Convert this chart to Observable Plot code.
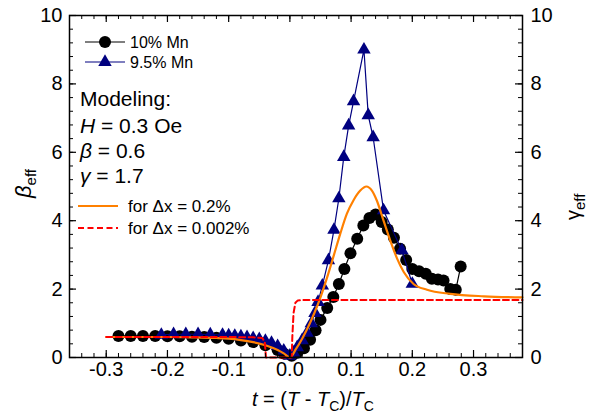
<!DOCTYPE html>
<html><head><meta charset="utf-8">
<script src="https://cdn.jsdelivr.net/npm/d3@7"></script>
<script src="https://cdn.jsdelivr.net/npm/@observablehq/plot@0.6"></script>
<style>
body{margin:0;background:#fff;font-family:"Liberation Sans",Arial,sans-serif;}
#wrap{position:relative;width:602px;height:417px;}
#wrap svg.overlay{position:absolute;left:0;top:0;pointer-events:none;}
</style></head><body><div id="wrap"></div>
<script>
// ---- data ----
const mn10T = [-0.28,-0.26,-0.24,-0.22,-0.20,-0.18,-0.16,-0.14,-0.12,-0.10,-0.08,-0.06,-0.04,-0.02,-0.01,0.003,0.012,0.023,0.033,0.042,0.050,0.061,0.071,0.080,0.089,0.099,0.110,0.120,0.130,0.140,0.150,0.160,0.170,0.180,0.190,0.200,0.211,0.222,0.232,0.242,0.251,0.262,0.271,0.279];
const mn10V = [0.63,0.63,0.63,0.63,0.62,0.62,0.61,0.60,0.58,0.55,0.50,0.45,0.36,0.22,0.12,0.05,0.14,0.27,0.52,0.80,1.10,1.45,1.77,2.15,2.59,3.05,3.47,3.86,4.08,4.18,3.96,3.74,3.50,3.18,2.85,2.59,2.52,2.45,2.30,2.28,2.25,2.00,1.98,2.66];

const mn95T = [-0.21,-0.19,-0.17,-0.15,-0.13,-0.11,-0.10,-0.09,-0.08,-0.07,-0.06,-0.05,-0.04,-0.03,-0.02,-0.01,0.0,0.006,0.012,0.020,0.028,0.035,0.041,0.046,0.053,0.063,0.072,0.080,0.088,0.096,0.104,0.121,0.128,0.136,0.153,0.183,0.200];
const mn95V = [0.66,0.68,0.68,0.68,0.67,0.66,0.64,0.63,0.61,0.59,0.56,0.53,0.48,0.42,0.33,0.20,0.05,0.14,0.30,0.50,0.72,1.00,1.30,1.62,2.10,2.84,3.73,4.65,5.86,6.78,7.49,9.00,7.08,6.44,4.30,3.13,2.15];

const modelAT = [-0.30,-0.25,-0.20,-0.16,-0.12,-0.10,-0.08,-0.06,-0.04,-0.02,-0.01,0.0,0.01,0.02,0.03,0.04,0.05,0.061,0.072,0.082,0.093,0.104,0.115,0.125,0.134,0.142,0.153,0.164,0.175,0.186,0.202,0.224,0.262,0.317,0.38];
const modelAV = [0.60,0.60,0.60,0.59,0.57,0.55,0.51,0.45,0.36,0.22,0.12,0.0,0.25,0.55,0.90,1.30,1.76,2.35,3.00,3.60,4.20,4.60,4.88,5.00,4.88,4.59,4.00,3.42,2.90,2.50,2.15,1.98,1.86,1.79,1.76];

const modelBT = [-0.30,-0.20,-0.10,-0.06,-0.045,-0.041,-0.039,0.003,0.004,0.006,0.009,0.013,0.02,0.38];
const modelBV = [0.60,0.60,0.60,0.59,0.57,0.45,0.0,0.0,0.6,1.3,1.6,1.67,1.68,1.68];

const xMajor = [-0.3,-0.2,-0.1,0,0.1,0.2,0.3];
const xTickLabels = ["-0.3","-0.2","-0.1","0.0","0.1","0.2","0.3"];
const yMajor = [0,2,4,6,8,10];
const yTickLabels = ["0","2","4","6","8","10"];
const xMinor = d3.range(-36,39,2).map(d=>d/100);
const yMinor = d3.range(0,26).map(d=>d*0.4);

// ---- build ----
const W=602,H=417,mL=69,mR=80,mT=15,mB=60;
const pW=W-mL-mR, pH=H-mT-mB;
const zip=(T,V)=>T.map((t,i)=>({t,v:V[i]}));
const d10=zip(mn10T,mn10V), d95=zip(mn95T,mn95V), dA=zip(modelAT,modelAV), dB=zip(modelBT,modelBV);
const FONT='"Liberation Sans",Arial,sans-serif';
const xi=xMajor.map((d,i)=>({d,l:xTickLabels[i]}));
const yi=yMajor.map((d,i)=>({d,l:yTickLabels[i]}));

const chart = Plot.plot({
  width:W,height:H,marginLeft:mL,marginRight:mR,marginTop:mT,marginBottom:mB,
  x:{domain:[-0.36,0.38],axis:null},
  y:{domain:[0,10],axis:null},
  style:{fontFamily:FONT,background:"transparent",color:"black"},
  marks:[
    Plot.line(d10,{x:"t",y:"v",stroke:"black",strokeWidth:1.2}),
    Plot.dot(d10,{x:"t",y:"v",r:6,fill:"black",stroke:"none"}),
    Plot.line(d95,{x:"t",y:"v",stroke:"#000080",strokeWidth:1.2}),
    Plot.dot(d95,{x:"t",y:"v",symbol:"triangle",r:5,fill:"#000080",stroke:"none"}),
    Plot.line(dA,{x:"t",y:"v",stroke:"#FF8000",strokeWidth:2.2,curve:"monotone-x"}),
    Plot.line(dB,{x:"t",y:"v",stroke:"#FF0000",strokeWidth:2,strokeDasharray:"6,3.5"}),
    // ticks (inward)
    Plot.tickX(xMinor,{x:d=>d,insetTop:pH-4,stroke:"black",strokeWidth:1}),
    Plot.tickX(xMajor,{x:d=>d,insetTop:pH-7,stroke:"black",strokeWidth:1.2}),
    Plot.tickX(xMinor,{x:d=>d,insetBottom:pH-4,stroke:"black",strokeWidth:1}),
    Plot.tickX(xMajor,{x:d=>d,insetBottom:pH-7,stroke:"black",strokeWidth:1.2}),
    Plot.tickY(yMinor,{y:d=>d,insetRight:pW-4,stroke:"black",strokeWidth:1}),
    Plot.tickY(yMajor,{y:d=>d,insetRight:pW-7,stroke:"black",strokeWidth:1.2}),
    Plot.tickY(yMinor,{y:d=>d,insetLeft:pW-4,stroke:"black",strokeWidth:1}),
    Plot.tickY(yMajor,{y:d=>d,insetLeft:pW-7,stroke:"black",strokeWidth:1.2}),
    Plot.frame({stroke:"black",strokeWidth:1.5}),
    // tick labels
    Plot.text(xi,{x:"d",text:"l",frameAnchor:"bottom",dy:18,fontSize:20,fill:"black"}),
    Plot.text(yi,{y:"d",text:"l",frameAnchor:"left",dx:-7,textAnchor:"end",fontSize:20,fill:"black"}),
    Plot.text(yi,{y:"d",text:"l",frameAnchor:"right",dx:8,textAnchor:"start",fontSize:20,fill:"black"})
  ]
});
const wrap=document.getElementById("wrap");
wrap.appendChild(chart);

// ---- overlay: legend, annotations, axis titles ----
const NS="http://www.w3.org/2000/svg";
const ov=document.createElementNS(NS,"svg");
ov.setAttribute("class","overlay");ov.setAttribute("width",W);ov.setAttribute("height",H);
ov.style.fontFamily=FONT;
ov.innerHTML=`
<g>
 <line x1="85" y1="42" x2="125" y2="42" stroke="black" stroke-width="1.2"/>
 <circle cx="105" cy="42" r="6" fill="black"/>
 <text x="130" y="48" font-size="16">10% Mn</text>
 <line x1="85" y1="62" x2="125" y2="62" stroke="#000080" stroke-width="1.2"/>
 <path d="${d3.symbol(d3.symbolTriangle, Math.PI*5*5)()}" transform="translate(105,62)" fill="#000080"/>
 <text x="130" y="68" font-size="16">9.5% Mn</text>
 <text x="80" y="106" font-size="21">Modeling:</text>
 <text x="80" y="133" font-size="21"><tspan font-style="italic">H</tspan> = 0.3 Oe</text>
 <text x="80" y="158" font-size="21"><tspan font-style="italic">β</tspan> = 0.6</text>
 <text x="80" y="183" font-size="21"><tspan font-style="italic">γ</tspan> = 1.7</text>
 <line x1="78" y1="206" x2="118" y2="206" stroke="#FF8000" stroke-width="2.2"/>
 <text x="128" y="212" font-size="17">for Δx = 0.2%</text>
 <line x1="78" y1="228" x2="118" y2="228" stroke="#FF0000" stroke-width="2" stroke-dasharray="6,3.5"/>
 <text x="128" y="234" font-size="17">for Δx = 0.002%</text>
 <text x="252" y="406" font-size="20"><tspan font-style="italic">t</tspan> = (<tspan font-style="italic">T</tspan> - <tspan font-style="italic">T</tspan><tspan font-size="14" dy="5">C</tspan><tspan dy="-5">)/</tspan><tspan font-style="italic">T</tspan><tspan font-size="14" dy="5">C</tspan></text>
 <text transform="translate(31,198) rotate(-90)" font-size="22"><tspan font-style="italic">β</tspan><tspan font-size="15" dy="5">eff</tspan></text>
 <text transform="translate(580,220) rotate(-90)" font-size="20">γ<tspan font-size="15" dy="5">eff</tspan></text>
</g>`;
wrap.appendChild(ov);
</script>
</body></html>
